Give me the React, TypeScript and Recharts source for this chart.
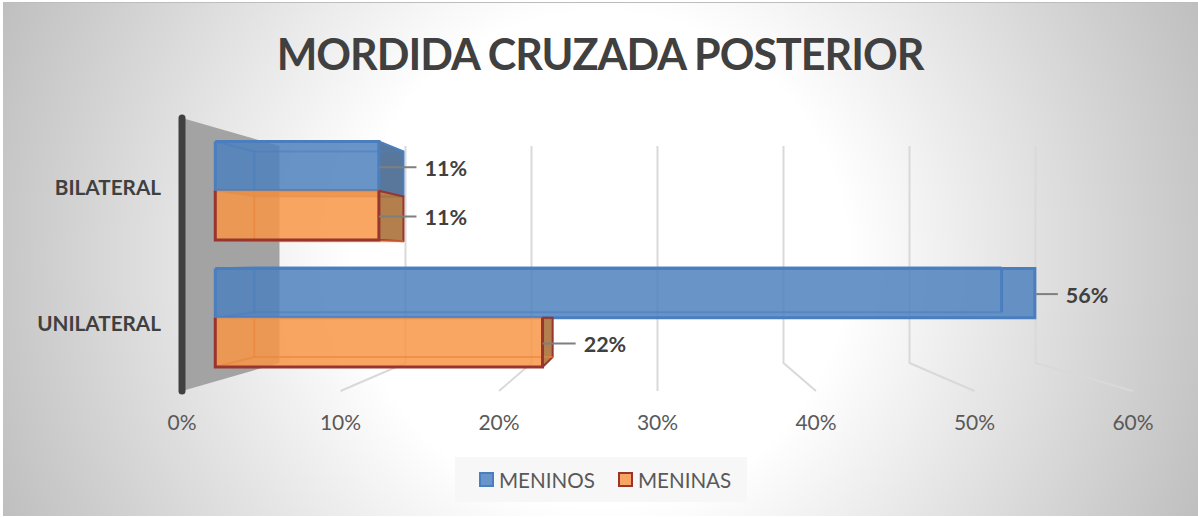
import { Bar, BarChart, CartesianGrid, LabelList, Legend, XAxis, YAxis } from "recharts";

const CATEGORIES = ["BILATERAL", "UNILATERAL"];
const MENINOS = [11.1, 55.6];
const MENINAS = [11.1, 22.2];
const X_TICKS = [0, 10, 20, 30, 40, 50, 60];
const SERIES_NAMES = ["MENINOS", "MENINAS"];

const chartData = CATEGORIES.map((category, i) => ({
  category,
  meninos: MENINOS[i],
  meninas: MENINAS[i],
}));

const FONT = "Lato, sans-serif";
const BLUE = { fill: "#4f81bd", edge: "#4a7ebf", inner: "#4a7ebf", side: "#3c5f88" };
const ORANGE = { fill: "#f79646", edge: "#98352f", inner: "#ec8439", side: "#a5682e" };

// the original is a 3D bar chart: everything is projected toward the middle of the plot
const CX = 657.5;
const CY = 254.5;
const FRONT = 0.93;
const BACK = 0.848;
const WALL = 0.795;
const px = (x: number, d: number) => CX + (x - CX) * d;
const py = (y: number, d: number) => CY + (y - CY) * d;
const pts = (list: number[][]) => list.map((p) => p.join(",")).join(" ");

function Box3D(props: any) {
  const { x, y, width, height, colors, openTop } = props;
  const l = px(x, FRONT);
  const r = px(x + width, FRONT);
  const t = py(y, FRONT);
  const b = py(y + height, FRONT);
  const lb = px(x, BACK);
  const rb = px(x + width, BACK);
  // the lower bar sits behind the upper one, so its back edge stops at the front top
  const tb = openTop ? Math.max(py(y, BACK), t) : py(y, BACK);
  const bb = py(y + height, BACK);
  const sideIsOutside = rb > r;
  const outline = openTop
    ? [[l, t], [l, b], [r, b], [r, t]]
    : [[l, t], [l, b], [r, b], [r, t], [l, t]];

  return (
    <g>
      <polygon
        points={pts([[r, t], [rb, tb], [rb, bb], [r, b]])}
        fill={sideIsOutside ? colors.side : "none"}
        fillOpacity={0.85}
        stroke={sideIsOutside ? colors.edge : "none"}
        strokeWidth={2}
        strokeLinejoin="round"
      />
      <rect x={l} y={t} width={r - l} height={b - t} fill={colors.fill} fillOpacity={0.85} />
      {openTop && tb > t && (
        <polygon points={pts([[l, t], [r, t], [r, tb], [lb, tb]])} fill={colors.inner} fillOpacity={0.45} />
      )}
      {!openTop && (
        <polyline
          points={pts([[l, t], [lb, tb], [rb, tb]])}
          fill="none"
          stroke={colors.inner}
          strokeWidth={2}
          strokeOpacity={0.6}
        />
      )}
      <polyline
        points={pts([[l, b], [lb, bb], [rb, bb]])}
        fill="none"
        stroke={colors.inner}
        strokeWidth={2}
        strokeOpacity={0.6}
      />
      <line x1={lb} y1={tb} x2={lb} y2={bb} stroke={colors.inner} strokeWidth={2} strokeOpacity={0.6} />
      {!sideIsOutside && <line x1={rb} y1={tb} x2={rb} y2={bb} stroke={colors.inner} strokeWidth={3} />}
      <polyline points={pts(outline)} fill="none" stroke={colors.edge} strokeWidth={3} />
    </g>
  );
}

function GridLine(props: any) {
  const { x1, y1, y2, index } = props;
  const xb = px(x1, WALL);
  const top = py(y1, WALL);
  const bottom = py(y2, WALL);

  // the first tick is the grey side wall
  if (index === 0) {
    return (
      <polygon
        key="wall"
        points={pts([[x1, y1], [xb, top], [xb, bottom], [x1, y2]])}
        fill="#a3a3a3"
      />
    );
  }
  return (
    <polyline
      key={x1}
      points={pts([[xb, top], [xb, bottom], [x1, y2]])}
      fill="none"
      stroke="#d9d9d9"
      strokeWidth={2}
    />
  );
}

function LeaderLabel(props: any) {
  const box = props.viewBox ?? props;
  const { x, y, width, height } = box;
  const front = px(x + width, FRONT);
  const back = px(x + width, BACK);
  const textX = Math.max(front, back) + (props.value < 15 ? 21 : 31);
  const midY = py(y + height / 2, FRONT) + 1;
  return (
    <g>
      <line x1={front} y1={midY} x2={textX - 8} y2={midY} stroke="#7f7f7f" strokeWidth={2} />
      <text
        x={textX}
        y={midY + 1}
        dominantBaseline="central"
        fontFamily={FONT}
        fontWeight={700}
        fontSize={21.5}
        fill="#404040"
      >
        {`${Math.round(props.value)}%`}
      </text>
    </g>
  );
}

function LegendBox() {
  const colors = [BLUE, ORANGE];
  return (
    <div
      style={{
        display: "flex",
        alignItems: "center",
        height: 45,
        paddingLeft: 24,
        background: "#f7f7f7",
        fontFamily: FONT,
        fontSize: 20.6,
        color: "#595959",
      }}
    >
      {SERIES_NAMES.map((name, i) => (
        <span key={name} style={{ display: "flex", alignItems: "center", marginRight: 23 }}>
          <span
            style={{
              width: 11,
              height: 11,
              marginRight: 5,
              background: i === 0 ? "#6a95c8" : "#f8a562",
              border: `2px solid ${colors[i].edge}`,
            }}
          />
          {name}
        </span>
      ))}
    </div>
  );
}

export default function App() {
  return (
    <div style={{ position: "relative", width: 1198, height: 517, overflow: "hidden" }}>
      <style>{"body{margin:0;background:#fff}"}</style>
      <div
        style={{
          position: "absolute",
          left: 3,
          top: 2,
          width: 1195,
          height: 513,
          borderTop: "1px solid #bdbdbd",
          background: "radial-gradient(circle farthest-corner at 50% 50%, #ffffff 38%, #bfbfbf 100%)",
        }}
      />
      <div
        style={{
          position: "absolute",
          left: 0,
          top: 26,
          width: 1200,
          textAlign: "center",
          fontFamily: FONT,
          fontWeight: 700,
          fontSize: 43,
          letterSpacing: -1,
          lineHeight: "56px",
          color: "#404040",
        }}
      >
        MORDIDA CRUZADA POSTERIOR
      </div>
      <div style={{ position: "absolute", left: 0, top: 0 }}>
        <BarChart
          width={1198}
          height={517}
          layout="vertical"
          data={chartData}
          margin={{ top: 118, right: 65, bottom: 86, left: 0 }}
          barSize={53}
          barGap={0}
          style={{ background: "transparent" }}
        >
          <CartesianGrid horizontal={false} vertical={(p: any) => <GridLine {...p} />} />
          <XAxis
            type="number"
            domain={[0, 60]}
            ticks={X_TICKS}
            interval={0}
            height={40}
            axisLine={false}
            tickLine={false}
            tickMargin={18}
            tickFormatter={(v) => `${v}%`}
            tick={{ fontFamily: FONT, fontSize: 21, fill: "#595959" }}
          />
          <YAxis
            type="category"
            dataKey="category"
            width={182}
            tickLine={false}
            tickSize={0}
            tickMargin={21}
            axisLine={{ stroke: "#404040", strokeWidth: 7, strokeLinecap: "round" }}
            tick={{ fontFamily: FONT, fontWeight: 700, fontSize: 20.7, fill: "#404040", dy: 1 }}
          />
          <Legend
            layout="horizontal"
            align="center"
            verticalAlign="middle"
            wrapperStyle={{ left: 455, top: 457, width: 292, height: 45 }}
            content={() => <LegendBox />}
          />
          <Bar
            dataKey="meninos"
            name={SERIES_NAMES[0]}
            fill={BLUE.fill}
            isAnimationActive={false}
            shape={(p: any) => <Box3D {...p} colors={BLUE} />}
          >
            <LabelList dataKey="meninos" content={(p: any) => <LeaderLabel {...p} />} />
          </Bar>
          <Bar
            dataKey="meninas"
            name={SERIES_NAMES[1]}
            fill={ORANGE.fill}
            isAnimationActive={false}
            shape={(p: any) => <Box3D {...p} colors={ORANGE} openTop />}
          >
            <LabelList dataKey="meninas" content={(p: any) => <LeaderLabel {...p} />} />
          </Bar>
        </BarChart>
      </div>
    </div>
  );
}
